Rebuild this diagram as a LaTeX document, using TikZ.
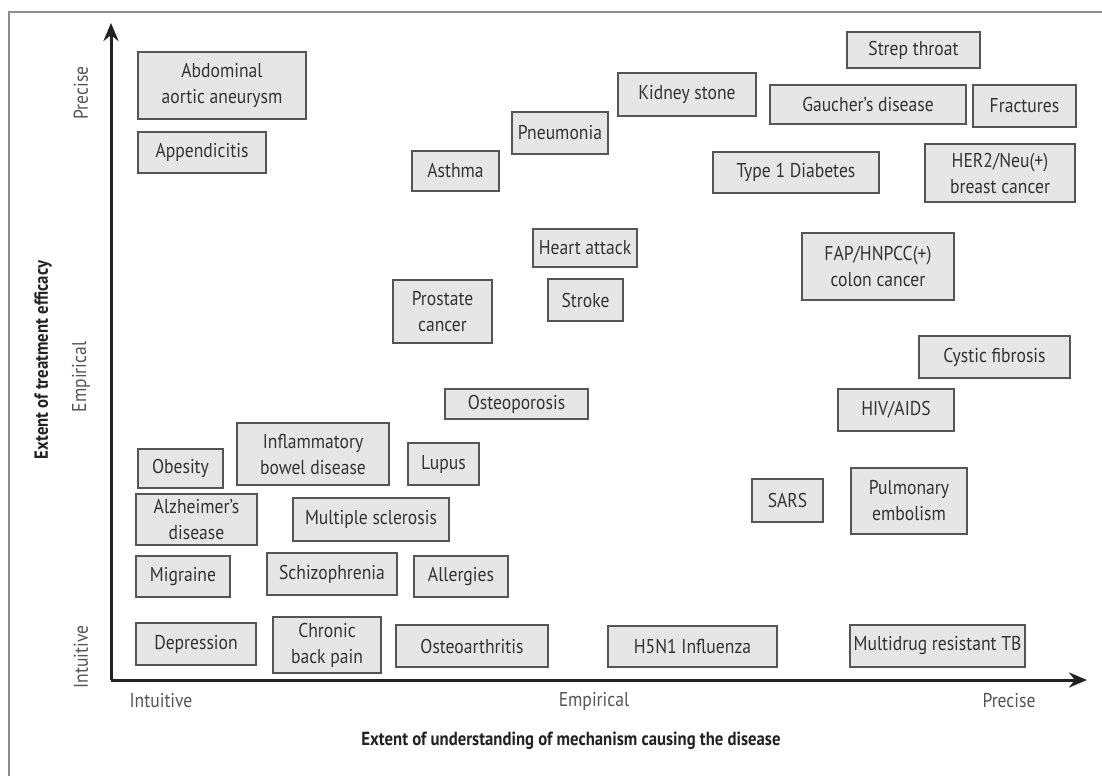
\documentclass[tikz,border=0pt]{standalone}
\usepackage{fontspec}
\setmainfont[FakeStretch=0.88]{PT Sans}
\usetikzlibrary{arrows.meta}
\definecolor{boxfill}{HTML}{E6E6E6}
\definecolor{boxline}{HTML}{555555}
\definecolor{txt}{HTML}{333333}
\definecolor{axis}{HTML}{222222}
\definecolor{frame}{HTML}{8C8C8C}
\definecolor{ticktxt}{HTML}{555555}
% disease box from its corners: name, x1, y1, x2, y2, text
\newcommand\dbx[6]{%
  \node[dbox, minimum width={#4-#2}, minimum height={#5-#3}]
    (#1) at ({(#2+#4)/2},{(#3+#5)/2}) {#6};}
\begin{document}
\begin{tikzpicture}[x=1pt, y=-1pt,
  dbox/.style={draw=boxline, fill=boxfill, line width=1.8pt, inner sep=1pt,
    align=center, text=txt, font=\fontsize{20}{26}\selectfont},
  ticklab/.style={text=ticktxt, font=\fontsize{20}{22}\selectfont, inner sep=0pt},
  axtitle/.style={text=axis, font=\fontsize{19}{21}\selectfont\bfseries, inner sep=0pt},
  axisline/.style={draw=axis, line width=3pt, -{Stealth[length=18pt, width=15pt]}}]
\useasboundingbox (0,0) rectangle (1102,776);
\fill[white] (0,0) rectangle (1102,776);
% open frame
\draw[frame, line width=2.5pt] (9,776) -- (9,12) -- (1102,12);

% axes
\coordinate (origin) at (111,680);
\coordinate (ytip) at (111,23);
\coordinate (xtip) at (1087,680);
\draw[axisline] (origin) -- (ytip);
\draw[axisline] (origin) -- (xtip);

% axis labels
\node[ticklab] (xint) at (161,701) {Intuitive};
\node[ticklab] (xemp) at (594,701) {Empirical};
\node[ticklab] (xpre) at (1009,701) {Precise};
\node[axtitle] (xtitle) at (571,741) {Extent of understanding of mechanism causing the disease};
\node[ticklab, rotate=90] (ypre) at (81,93) {Precise};
\node[ticklab, rotate=90] (yemp) at (81,377) {Empirical};
\node[ticklab, rotate=90] (yint) at (81,657) {Intuitive};
\node[axtitle, rotate=90] (ytitle) at (43,360) {Extent of treatment efficacy};

% diseases
\dbx{aaa}{138}{52}{306}{119}{Abdominal\\aortic aneurysm}
\dbx{app}{138}{132}{266}{173}{Appendicitis}
\dbx{asthma}{412}{151}{499}{191}{Asthma}
\dbx{pneu}{512}{112}{608}{154}{Pneumonia}
\dbx{kidney}{618}{73}{756}{116}{Kidney stone}
\dbx{heart}{533}{229}{637}{267}{Heart attack}
\dbx{strep}{847}{32}{980}{68}{Strep throat}
\dbx{gaucher}{770}{85}{966}{124}{Gaucher's disease}
\dbx{fract}{973}{85}{1076}{127}{Fractures}
\dbx{tdiab}{713}{152}{879}{193}{Type 1 Diabetes}
\dbx{her}{925}{144}{1075}{202}{HER2/Neu(+)\\breast cancer}
\dbx{fap}{802}{233}{954}{300}{FAP/HNPCC(+)\\colon cancer}
\dbx{prost}{393}{280}{492}{343}{Prostate\\cancer}
\dbx{stroke}{548}{279}{623}{321}{Stroke}
\dbx{osteop}{445}{389}{588}{419}{Osteoporosis}
\dbx{lupus}{408}{443}{479}{485}{Lupus}
\dbx{cf}{919}{336}{1070}{378}{Cystic fibrosis}
\dbx{hiv}{838}{389}{954}{431}{HIV/AIDS}
\dbx{sars}{752}{479}{823}{522}{SARS}
\dbx{pe}{851}{468}{967}{534}{Pulmonary\\embolism}
\dbx{obes}{138}{449}{223}{488}{Obesity}
\dbx{ibd}{237}{423}{389}{485}{Inflammatory\\bowel disease}
\dbx{alz}{136}{494}{257}{545}{Alzheimer's\\disease}
\dbx{ms}{293}{498}{449}{541}{Multiple sclerosis}
\dbx{migr}{136}{556}{230}{597}{Migraine}
\dbx{schiz}{267}{553}{397}{595}{Schizophrenia}
\dbx{allerg}{414}{556}{508}{597}{Allergies}
\dbx{depr}{136}{623}{256}{665}{Depression}
\dbx{cbp}{273}{617}{381}{673}{Chronic\\back pain}
\dbx{oa}{396}{625}{548}{667}{Osteoarthritis}
\dbx{flu}{608}{626}{777}{667}{H5N1 Influenza}
\dbx{tb}{850}{625}{1025}{667}{Multidrug resistant TB}
\end{tikzpicture}
\end{document}
